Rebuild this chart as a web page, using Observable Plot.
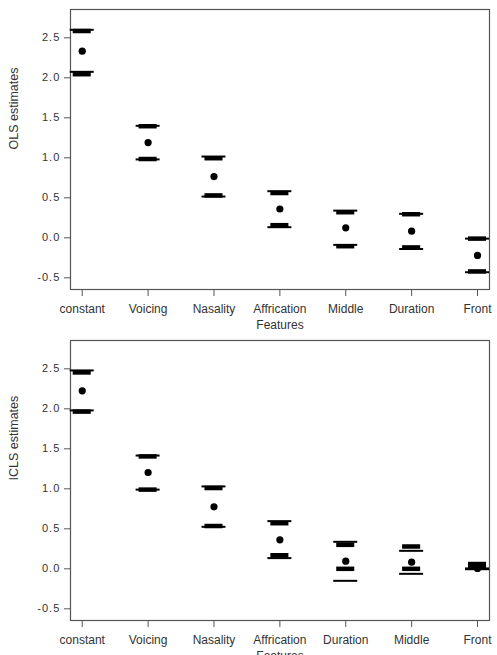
<!DOCTYPE html>
<html>
<head>
<meta charset="utf-8">
<script src="https://cdn.jsdelivr.net/npm/d3@7"></script>
<script src="https://cdn.jsdelivr.net/npm/@observablehq/plot@0.6"></script>
<style>
  body { margin: 0; background: #fff; }
  #chart svg { display: block; overflow: visible; }
  .ytick text { letter-spacing: 1.1px; }
</style>
</head>
<body>
<div id="chart"></div>
<script>
// ---- Panel 1: OLS ----
const olsFeatures = ["constant", "Voicing", "Nasality", "Affrication", "Middle", "Duration", "Front"];
const olsEst      = [2.333, 1.19, 0.766, 0.36, 0.125, 0.083, -0.22];
const olsLineLo   = [2.075, 0.98, 0.516, 0.133, -0.088, -0.14, -0.43];
const olsLineHi   = [2.60, 1.40, 1.016, 0.583, 0.34, 0.30, -0.01];
const olsBlockLo  = [2.045, 0.985, 0.53, 0.158, -0.105, -0.12, -0.42];
const olsBlockHi  = [2.585, 1.395, 0.995, 0.56, 0.32, 0.295, -0.01];

// ---- Panel 2: ICLS ----
const iclsFeatures = ["constant", "Voicing", "Nasality", "Affrication", "Duration", "Middle", "Front"];
const iclsEst      = [2.225, 1.204, 0.775, 0.3625, 0.096, 0.083, 0.005];
const iclsLineLo   = [1.98, 0.99, 0.525, 0.134, -0.15, -0.0625, -0.005];
const iclsLineHi   = [2.48, 1.416, 1.03, 0.596, 0.3375, 0.225, 0.005];
const iclsBlockLo  = [1.965, 0.99, 0.535, 0.17, 0.0, 0.0, 0.02];
const iclsBlockHi  = [2.455, 1.405, 1.01, 0.57, 0.30, 0.279, 0.06];

const yTicks = [-0.5, 0, 0.5, 1, 1.5, 2, 2.5];
const xLabel = "Features";

function panel(features, est, lineLo, lineHi, blockLo, blockHi, yLabel) {
  const rows = features.map((f, i) => ({
    i, f, est: est[i], lineLo: lineLo[i], lineHi: lineHi[i], blockLo: blockLo[i], blockHi: blockHi[i]
  }));
  const lines = rows.flatMap(d => [{i: d.i, v: d.lineLo}, {i: d.i, v: d.lineHi}]);
  const blocks = rows.flatMap(d => [{i: d.i, v: d.blockLo}, {i: d.i, v: d.blockHi}]);
  const lw = 0.182, bw = 0.137;
  return Plot.plot({
    width: 497,
    height: 331,
    marginTop: 9,
    marginBottom: 42,
    marginLeft: 70,
    marginRight: 8,
    style: {fontFamily: "'Liberation Sans', Arial, Helvetica, sans-serif", fontSize: "12px", color: "#333", background: "transparent", overflow: "visible"},
    x: {type: "linear", domain: [-0.178, 6.182]},
    y: {domain: [-0.646, 2.854]},
    marks: [
      Plot.frame({stroke: "#555", strokeWidth: 1.2}),
      Plot.axisY({
        ticks: yTicks, tickFormat: d => d.toFixed(1), tickSize: 6, tickPadding: 4,
        stroke: "#555", fill: "#333", fontSize: 11, className: "ytick", label: null
      }),
      Plot.text([yLabel], {
        text: d => d, frameAnchor: "left", rotate: -90, dx: -57,
        fontSize: 12.5, fill: "#333"
      }),
      Plot.axisX({
        ticks: d3.range(features.length), tickFormat: i => features[i], tickSize: 7, tickPadding: 8,
        stroke: "#555", fill: "#333", fontSize: 12, label: null
      }),
      Plot.text([xLabel], {
        text: d => d, frameAnchor: "bottom", dy: 39, fontSize: 12, fill: "#333"
      }),
      Plot.ruleY(lines, {y: "v", x1: d => d.i - lw, x2: d => d.i + lw, stroke: "#000", strokeWidth: 2}),
      Plot.ruleY(blocks, {y: "v", x1: d => d.i - bw, x2: d => d.i + bw, stroke: "#000", strokeWidth: 4.5}),
      Plot.dot(rows, {x: "i", y: "est", r: 3.6, fill: "#000", stroke: "none"})
    ]
  });
}

const chart = document.getElementById("chart");
chart.append(panel(olsFeatures, olsEst, olsLineLo, olsLineHi, olsBlockLo, olsBlockHi, "OLS estimates"));
chart.append(panel(iclsFeatures, iclsEst, iclsLineLo, iclsLineHi, iclsBlockLo, iclsBlockHi, "ICLS estimates"));
</script>
</body>
</html>
